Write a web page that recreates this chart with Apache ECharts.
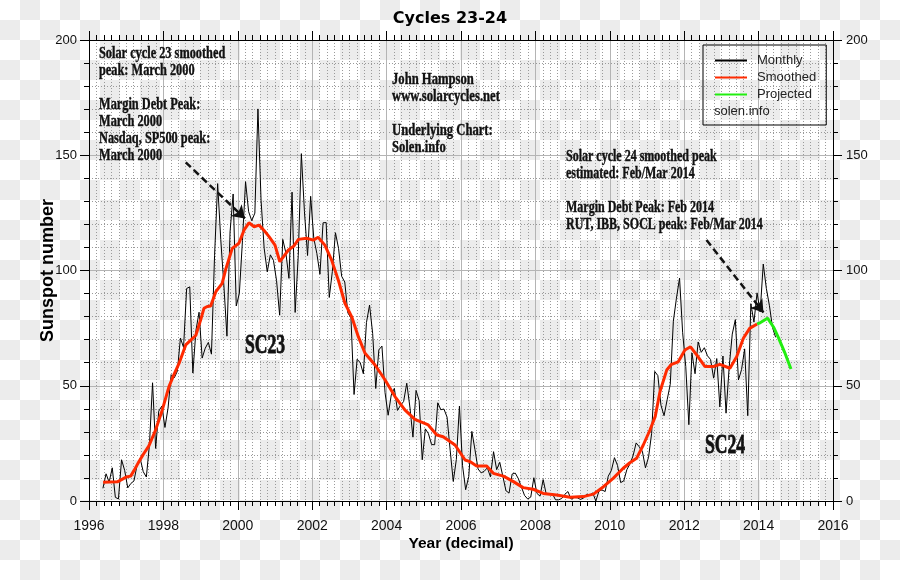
<!DOCTYPE html>
<html><head><meta charset="utf-8">
<script src="https://cdn.jsdelivr.net/npm/echarts@6/dist/echarts.min.js"></script>
<style>
html,body{margin:0;padding:0;background:#fff;}
#c{width:900px;height:580px;background:repeating-conic-gradient(#ececec 0% 25%, #ffffff 0% 50%) 0 0/40px 40px;}
</style></head><body><div id="c"></div>
<script>
// ---- Data ----
const monthlyStartYear = 1996;
const monthlyStartMonth = 5; // May 1996
const monthlyValues = [
  5.5, 11.8, 8.2, 14.4, 1.6, 0.9, 17.9, 13.3,
  5.7, 7.6, 8.7, 15.5, 18.5, 12.7, 10.4, 24.4, 51.3, 22.8, 39.0, 41.2,
  31.9, 40.3, 54.8, 53.4, 56.3, 70.7, 66.6, 92.2, 92.9, 55.5, 74.0, 81.9,
  62.0, 66.3, 68.8, 63.7, 106.4, 137.7, 113.5, 93.7, 71.5, 116.7, 133.2, 84.6,
  90.1, 112.9, 138.5, 125.5, 121.6, 124.9, 170.1, 130.5, 109.7, 99.4, 106.8, 104.4,
  95.6, 80.6, 113.5, 107.7, 96.6, 134.0, 81.8, 106.4, 150.7, 125.5, 106.5, 132.2,
  114.1, 107.4, 98.4, 120.7, 120.8, 88.3, 99.6, 116.4, 109.6, 97.5, 95.0, 81.6,
  79.5, 46.2, 61.5, 60.0, 55.2, 77.4, 85.0, 72.7, 48.8, 65.6, 67.2, 47.0,
  37.2, 46.0, 48.9, 39.3, 41.5, 43.2, 51.1, 40.9, 27.7, 48.0, 43.5, 17.9,
  31.3, 29.2, 24.5, 24.4, 42.6, 39.6, 39.9, 36.4, 22.1, 8.5, 18.0, 41.2,
  15.3, 4.9, 10.6, 30.2, 22.3, 13.9, 12.2, 12.9, 14.4, 10.5, 21.4, 13.6,
  16.8, 10.7, 4.5, 3.4, 11.7, 12.1, 9.7, 6.0, 2.4, 0.9, 1.7, 10.1,
  3.3, 2.1, 9.3, 2.9, 2.9, 3.1, 0.5, 0.5, 1.1, 2.9, 4.1, 0.8,
  1.5, 1.4, 0.7, 1.2, 2.9, 2.6, 3.5, 0.0, 4.3, 4.8, 4.1, 10.8,
  13.2, 18.8, 15.4, 8.0, 8.7, 13.6, 16.1, 19.6, 25.2, 23.5, 21.6, 14.4,
  19.0, 29.4, 56.2, 54.4, 41.6, 37.0, 43.9, 50.6, 78.0, 88.0, 96.7, 73.0,
  58.3, 33.1, 64.2, 55.2, 69.0, 64.5, 66.5, 63.0, 61.4, 53.3, 61.8, 40.8,
  62.9, 38.1, 57.9, 72.4, 78.7, 52.5, 57.0, 66.0, 37.0, 85.6, 77.6, 90.3,
  82.0, 102.8, 92.2, 84.7, 75.2, 71.0
];
const smoothedYears = [
  1996.38, 1996.55, 1996.76, 1996.90, 1997.00, 1997.12, 1997.22, 1997.34, 1997.47, 1997.61,
  1997.79, 1997.97, 1998.15, 1998.28, 1998.42, 1998.60, 1998.75, 1998.87, 1999.00, 1999.09,
  1999.18, 1999.27, 1999.41, 1999.58, 1999.67, 1999.85, 2000.03, 2000.17, 2000.30, 2000.44,
  2000.57, 2000.70, 2000.84, 2001.00, 2001.13, 2001.25, 2001.36, 2001.50, 2001.63, 2001.85,
  2002.03, 2002.16, 2002.34, 2002.52, 2002.70, 2002.88, 2003.06, 2003.24, 2003.42, 2003.69,
  2003.96, 2004.23, 2004.49, 2004.76, 2005.12, 2005.35, 2005.52, 2005.84, 2006.11, 2006.24,
  2006.42, 2006.69, 2006.87, 2007.14, 2007.41, 2007.67, 2007.94, 2008.21, 2008.57, 2008.93,
  2009.29, 2009.56, 2009.83, 2010.09, 2010.36, 2010.54, 2010.72, 2010.90, 2011.08, 2011.22,
  2011.35, 2011.53, 2011.66, 2011.84, 2012.02, 2012.17, 2012.34, 2012.56, 2012.78, 2012.96,
  2013.23, 2013.41, 2013.59, 2013.76, 2013.96
];
const smoothedValues = [
  8.1, 8.2, 8.3, 9.5, 10.4, 10.8, 13.5, 17.0, 20.5, 23.9,
  30.8, 39.5, 49.6, 54.7, 59.7, 67.7, 70.0, 71.8, 78.5, 83.6,
  84.4, 84.6, 90.8, 94.4, 100.2, 109.6, 111.8, 117.6, 120.7, 119.0,
  119.7, 117.5, 114.7, 111.0, 103.8, 106.5, 108.9, 110.5, 113.5, 114.0,
  113.2, 114.4, 111.0, 104.6, 95.9, 85.8, 80.0, 71.3, 64.1, 59.0,
  52.5, 45.2, 39.5, 35.4, 33.0, 28.6, 27.9, 24.3, 17.8, 17.1,
  15.2, 15.2, 12.0, 10.8, 8.4, 5.8, 5.1, 3.3, 2.6, 1.6,
  1.9, 3.0, 6.2, 9.8, 14.2, 16.6, 18.5, 24.3, 30.8, 36.6,
  47.5, 56.8, 59.3, 60.4, 65.5, 66.9, 63.3, 58.3, 58.3, 59.3,
  57.6, 62.6, 70.6, 74.9, 76.8
];
const projectedYears = [2013.96, 2014.04, 2014.24, 2014.40, 2014.53, 2014.70, 2014.87];
const projectedValues = [76.8, 77.3, 79.3, 75.5, 71.0, 64.5, 57.3];
// arrows: [fromYear, fromValue, toYear, toValue]
const arrowSC23 = [1998.60, 146.9, 2000.19, 122.6];
const arrowSC24 = [2012.60, 113.2, 2014.13, 81.8];
const xTicks = {min: 1996, max: 2016, interval: 2};
const yTicks = {min: 0, max: 200, interval: 50};

// ---- Build ----
const monthlyData = monthlyValues.map((v, i) => [monthlyStartYear + (monthlyStartMonth - 1 + i + 0.5) / 12, v]);
const smoothedData = smoothedYears.map((x, i) => [x, smoothedValues[i]]);
const projectedData = projectedYears.map((x, i) => [x, projectedValues[i]]);

const chart = echarts.init(document.getElementById('c'), null, {renderer: 'canvas'});
const SANS = 'Liberation Sans, Arial, sans-serif';
const SERIF = 'Liberation Serif, Times New Roman, serif';

function xAxisCfg(pos) {
  const top = pos === 'top';
  return {
    type: 'value', position: pos, min: xTicks.min, max: xTicks.max, interval: xTicks.interval,
    name: top ? '' : 'Year (decimal)', nameLocation: 'middle', nameGap: 35, nameMoveOverlap: false,
    nameTextStyle: {fontFamily: SANS, fontWeight: 'bold', fontSize: 15.5, color: '#000'},
    axisLine: {show: true, onZero: false, lineStyle: {color: '#000', width: 1}},
    axisTick: {show: true, inside: false, length: 9, lineStyle: {color: '#000'}},
    minorTick: {show: true, splitNumber: 10, length: 5, lineStyle: {color: '#000'}},
    axisLabel: {show: !top, margin: 18, fontFamily: SANS, fontSize: 14, color: '#111', formatter: v => String(v)},
    splitLine: {show: !top, lineStyle: {color: '#b4b4b4', width: 1}},
    minorSplitLine: {show: !top, lineStyle: {color: '#9a9a9a', width: 1, type: [1, 2]}}
  };
}
function yAxisCfg(pos) {
  const left = pos === 'left';
  return {
    type: 'value', position: pos, min: yTicks.min, max: yTicks.max, interval: yTicks.interval,
    name: left ? 'Sunspot number' : '', nameLocation: 'middle', nameGap: 32, nameMoveOverlap: false,
    nameTextStyle: {fontFamily: SANS, fontWeight: 'bold', fontSize: 18, color: '#000'},
    axisLine: {show: true, onZero: false, lineStyle: {color: '#000', width: 1}},
    axisTick: {show: true, inside: false, length: 9, lineStyle: {color: '#000'}},
    minorTick: {show: true, splitNumber: 5, length: 5, lineStyle: {color: '#000'}},
    axisLabel: {show: true, margin: left ? 12 : 13, fontFamily: SANS, fontSize: 13, color: '#111'},
    splitLine: {show: left, lineStyle: {color: '#b4b4b4', width: 1}},
    minorSplitLine: {show: left, lineStyle: {color: '#9a9a9a', width: 1, type: [1, 2]}}
  };
}

function annot(text, x, y, sx) {
  return {type: 'text', x: x, y: y, scaleX: sx, scaleY: 1, z: 100,
    style: {text: text, fontFamily: SERIF, fontWeight: 'bold', fontSize: 16, lineHeight: 17,
      fill: '#111', stroke: '#111', lineWidth: 0.4, align: 'left', verticalAlign: 'top'}};
}
function bigLabel(text, x, y) {
  return {type: 'text', x: x, y: y, scaleX: 0.63, z: 100,
    style: {text: text, fontFamily: SERIF, fontWeight: 'bold', fontSize: 28,
      fill: '#111', stroke: '#111', lineWidth: 0.8, align: 'center', verticalAlign: 'middle'}};
}

const arrowLine = a => [{coord: [a[0], a[1]]}, {coord: [a[2], a[3]]}];

chart.setOption({
  backgroundColor: 'transparent',
  animation: false,
  title: {text: 'Cycles 23-24', left: 'center', top: 11, padding: 0,
    textStyle: {fontFamily: 'DejaVu Sans, Verdana, sans-serif', fontWeight: 'bold', fontSize: 16, color: '#000'}},
  grid: {left: 89, right: 67, top: 40, bottom: 79, containLabel: false, outerBoundsMode: 'none'},
  legend: {
    data: ['Monthly', 'Smoothed', 'Projected'], orient: 'vertical', left: 703, top: 45,
    padding: [9, 10, 24, 11], itemWidth: 32, itemHeight: 14, itemGap: 4,
    borderColor: '#000', borderWidth: 1, backgroundColor: 'transparent',
    selectedMode: false,
    itemStyle: {opacity: 0},
    textStyle: {fontFamily: SANS, fontSize: 13, color: '#222', padding: [0, 0, 0, 5]}
  },
  xAxis: [xAxisCfg('bottom'), xAxisCfg('top')],
  yAxis: [yAxisCfg('left'), yAxisCfg('right')],
  series: [
    {name: 'Monthly', type: 'line', data: monthlyData, symbol: 'none', showSymbol: false,
      color: '#000', lineStyle: {color: '#000', width: 1}, z: 2, silent: true},
    {name: 'Smoothed', type: 'line', data: smoothedData, symbol: 'none', showSymbol: false,
      color: '#ff2a00', lineStyle: {color: '#ff2a00', width: 3}, z: 3, silent: true},
    {name: 'Projected', type: 'line', data: projectedData, symbol: 'none', showSymbol: false,
      color: '#22ee11', lineStyle: {color: '#22ee11', width: 3}, z: 4, silent: true,
      markLine: {silent: true, symbol: ['none', 'arrow'], symbolSize: 12, label: {show: false},
        lineStyle: {color: '#111', width: 2.5, type: [7, 4]},
        emphasis: {disabled: true},
        data: [arrowLine(arrowSC23), arrowLine(arrowSC24)]}}
  ],
  graphic: [
    annot('Solar cycle 23 smoothed\npeak: March 2000\n\nMargin Debt Peak:\nMarch 2000\nNasdaq, SP500 peak:\nMarch 2000', 99, 45, 0.77),
    annot('John Hampson\nwww.solarcycles.net\n\nUnderlying Chart:\nSolen.info', 392, 71, 0.79),
    annot('Solar cycle 24 smoothed peak\nestimated: Feb/Mar 2014\n\nMargin Debt Peak: Feb 2014\nRUT, IBB, SOCL peak: Feb/Mar 2014', 566, 148, 0.75),
    bigLabel('SC23', 265, 346),
    bigLabel('SC24', 725, 446),
    {type: 'text', x: 714, y: 111, z: 100,
      style: {text: 'solen.info', fontFamily: SANS, fontSize: 13, fill: '#222', align: 'left', verticalAlign: 'middle'}}
  ]
});
</script></body></html>
